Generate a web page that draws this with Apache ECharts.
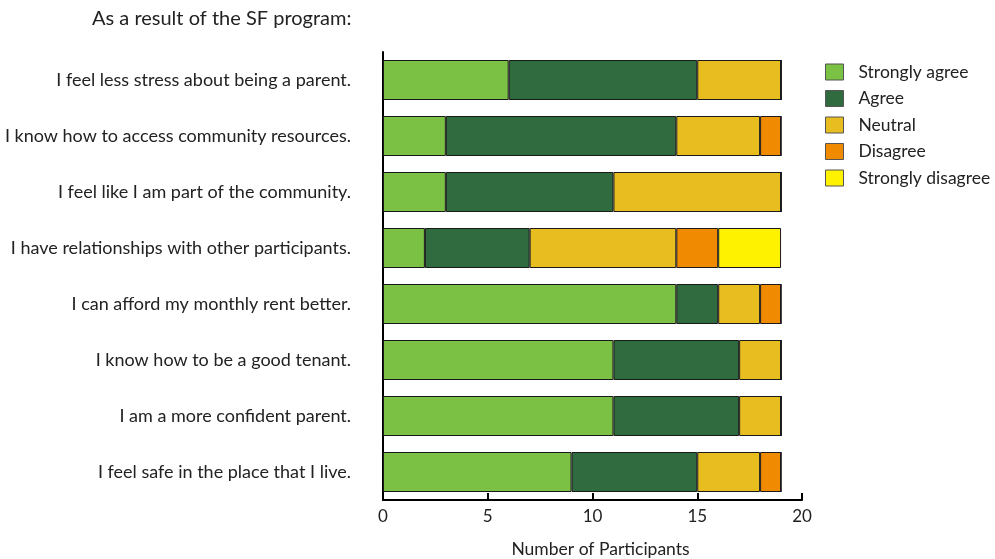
<!DOCTYPE html>
<html>
<head>
<meta charset="utf-8">
<script src="https://cdn.jsdelivr.net/npm/echarts@6/dist/echarts.min.js"></script>
<style>
  html, body { margin: 0; padding: 0; background: #fff; }
  #chart { width: 995px; height: 559px; }
</style>
</head>
<body>
<div id="chart"></div>
<script>
// Survey statements, listed top to bottom
const statements = [
  'I feel less stress about being a parent.',
  'I know how to access community resources.',
  'I feel like I am part of the community.',
  'I have relationships with other participants.',
  'I can afford my monthly rent better.',
  'I know how to be a good tenant.',
  'I am a more confident parent.',
  'I feel safe in the place that I live.'
];

// Number of participants per response, same order as statements
const stronglyAgree    = [6, 3, 3, 2, 14, 11, 11, 9];
const agree            = [9, 11, 8, 5, 2, 6, 6, 6];
const neutral          = [4, 4, 8, 7, 2, 2, 2, 3];
const disagree         = [0, 1, 0, 2, 1, 0, 0, 1];
const stronglyDisagree = [0, 0, 0, 3, 0, 0, 0, 0];

const xTicks = [0, 5, 10, 15, 20];

const FONT = 'Lato';
const chart = echarts.init(document.getElementById('chart'));

const seriesDefs = [
  { name: 'Strongly agree', data: stronglyAgree, color: '#7bc143' },
  { name: 'Agree', data: agree, color: '#2f6b3e' },
  { name: 'Neutral', data: neutral, color: '#e8bd20' },
  { name: 'Disagree', data: disagree, color: '#f08a00' },
  { name: 'Strongly disagree', data: stronglyDisagree, color: '#fff200' }
];

chart.setOption({
  animation: false,
  textStyle: { fontFamily: FONT },
  title: {
    text: 'As a result of the SF program:',
    left: 92, top: 9, padding: 0,
    textStyle: { fontFamily: FONT, fontSize: 20, fontWeight: 'normal', color: '#222' }
  },
  legend: {
    orient: 'vertical',
    left: 825, top: 63, padding: 0,
    itemWidth: 18, itemHeight: 16, itemGap: 8.5,
    icon: 'rect',
    textStyle: { fontFamily: FONT, fontSize: 17.5, color: '#222', padding: [0, 0, 0, 10] },
    data: seriesDefs.map(s => ({
      name: s.name,
      itemStyle: { color: s.color, borderColor: '#555', borderWidth: 1 }
    }))
  },
  grid: {
    left: 383, right: 193, top: 52, height: 448,
    containLabel: false, outerBoundsMode: 'none'
  },
  xAxis: {
    type: 'value',
    min: xTicks[0], max: xTicks[xTicks.length - 1], interval: 5,
    name: 'Number of Participants',
    nameLocation: 'middle', nameGap: 40,
    nameTextStyle: { fontFamily: FONT, fontSize: 17.5, color: '#222', padding: [0, 0, 0, 16] },
    axisLine: { show: true, lineStyle: { color: '#000', width: 2 } },
    axisTick: { show: true, inside: true, length: 7, lineStyle: { color: '#000', width: 2 } },
    axisLabel: { fontFamily: FONT, fontSize: 17, color: '#222', margin: 8 },
    splitLine: { show: false }
  },
  yAxis: {
    type: 'category',
    inverse: true,
    data: statements,
    axisLine: { show: true, lineStyle: { color: '#000', width: 2 } },
    axisTick: { show: false },
    axisLabel: { fontFamily: FONT, fontSize: 18, color: '#222', margin: 32 }
  },
  series: seriesDefs.map(s => ({
    name: s.name,
    type: 'bar',
    stack: 'total',
    barWidth: 40,
    data: s.data,
    itemStyle: { color: s.color, borderColor: '#1a1a1a', borderWidth: 1 }
  }))
});
</script>
</body>
</html>
